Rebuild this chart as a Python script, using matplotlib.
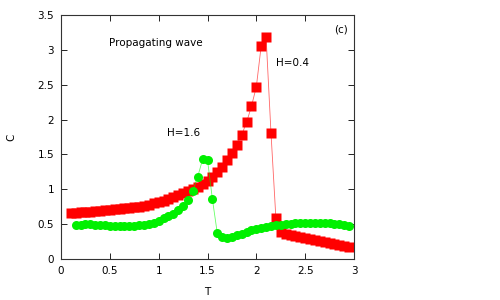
import numpy as np
import matplotlib
matplotlib.use("Agg")
import matplotlib.pyplot as plt

# H=0.4 (red squares)
t_red = [0.1, 0.15, 0.2, 0.25, 0.3, 0.35, 0.4, 0.45, 0.5, 0.55, 0.6, 0.65, 0.7, 0.75,
         0.8, 0.85, 0.9, 0.95, 1.0, 1.05, 1.1, 1.15, 1.2, 1.25, 1.3, 1.35, 1.4, 1.45,
         1.5, 1.55, 1.6, 1.65, 1.7, 1.75, 1.8, 1.85, 1.9, 1.95, 2.0, 2.05, 2.1, 2.15,
         2.2, 2.25, 2.3, 2.35, 2.4, 2.45, 2.5, 2.55, 2.6, 2.65, 2.7, 2.75, 2.8, 2.85,
         2.9, 2.95]
c_red = [0.66, 0.665, 0.67, 0.675, 0.68, 0.685, 0.69, 0.695, 0.70, 0.71, 0.72, 0.725,
         0.73, 0.74, 0.75, 0.765, 0.78, 0.795, 0.81, 0.83, 0.86, 0.89, 0.92, 0.94,
         0.97, 1.00, 1.03, 1.07, 1.12, 1.18, 1.25, 1.32, 1.42, 1.52, 1.64, 1.78, 1.96,
         2.19, 2.47, 3.06, 3.18, 1.81, 0.59, 0.38, 0.36, 0.345, 0.33, 0.315, 0.30,
         0.285, 0.27, 0.255, 0.24, 0.225, 0.21, 0.195, 0.185, 0.17]

# H=1.6 (green circles)
t_green = [0.15, 0.2, 0.25, 0.3, 0.35, 0.4, 0.45, 0.5, 0.55, 0.6, 0.65, 0.7, 0.75,
           0.8, 0.85, 0.9, 0.95, 1.0, 1.05, 1.1, 1.15, 1.2, 1.25, 1.3, 1.35, 1.4,
           1.45, 1.5, 1.55, 1.6, 1.65, 1.7, 1.75, 1.8, 1.85, 1.9, 1.95, 2.0, 2.05,
           2.1, 2.15, 2.2, 2.25, 2.3, 2.35, 2.4, 2.45, 2.5, 2.55, 2.6, 2.65, 2.7,
           2.75, 2.8, 2.85, 2.9, 2.95]
c_green = [0.49, 0.49, 0.495, 0.50, 0.49, 0.485, 0.48, 0.475, 0.475, 0.47, 0.47, 0.465,
           0.47, 0.48, 0.49, 0.50, 0.52, 0.55, 0.58, 0.61, 0.65, 0.70, 0.76, 0.85,
           0.98, 1.18, 1.43, 1.42, 0.86, 0.37, 0.32, 0.30, 0.32, 0.34, 0.36, 0.39,
           0.41, 0.43, 0.45, 0.46, 0.47, 0.48, 0.49, 0.50, 0.505, 0.51, 0.515, 0.52,
           0.52, 0.52, 0.52, 0.515, 0.51, 0.50, 0.495, 0.49, 0.475]

plt.rcParams['font.family'] = 'DejaVu Sans'
plt.rcParams['font.size'] = 7.5

fig = plt.figure(figsize=(5, 3), dpi=100)
ax = fig.add_axes([0.122, 0.137, 0.586, 0.813])

ax.plot(t_red, c_red, color='#ff0000', lw=0.6, alpha=0.6)
ax.plot(t_red, c_red, ls='none', marker='s', ms=7, color='#ff0000', mec='none')
ax.plot(t_green, c_green, color='#00ff00', lw=0.6, alpha=0.6)
ax.plot(t_green, c_green, ls='none', marker='o', ms=6.5, color='#00f000', mec='none')

ax.set_xlim(0, 3)
ax.set_ylim(0, 3.5)
ax.set_xticks([0, 0.5, 1, 1.5, 2, 2.5, 3])
ax.set_xticklabels(['0', '0.5', '1', '1.5', '2', '2.5', '3'])
ax.set_yticks([0, 0.5, 1, 1.5, 2, 2.5, 3, 3.5])
ax.set_yticklabels(['0', '0.5', '1', '1.5', '2', '2.5', '3', '3.5'])
ax.tick_params(direction='in', top=True, right=True, length=4, width=0.6, pad=5)
for s in ax.spines.values():
    s.set_linewidth(0.8)
    s.set_color('#333333')

ax.set_xlabel('T', labelpad=8)
ax.set_ylabel('C', labelpad=15)

ax.text(0.49, 3.1, 'Propagating wave', va='center')
ax.text(2.2, 2.81, 'H=0.4', va='center')
ax.text(1.085, 1.81, 'H=1.6', va='center')
ax.text(0.98, 0.94, '(c)', transform=ax.transAxes, ha='right', va='center')

fig.savefig('out.png', dpi=100)
